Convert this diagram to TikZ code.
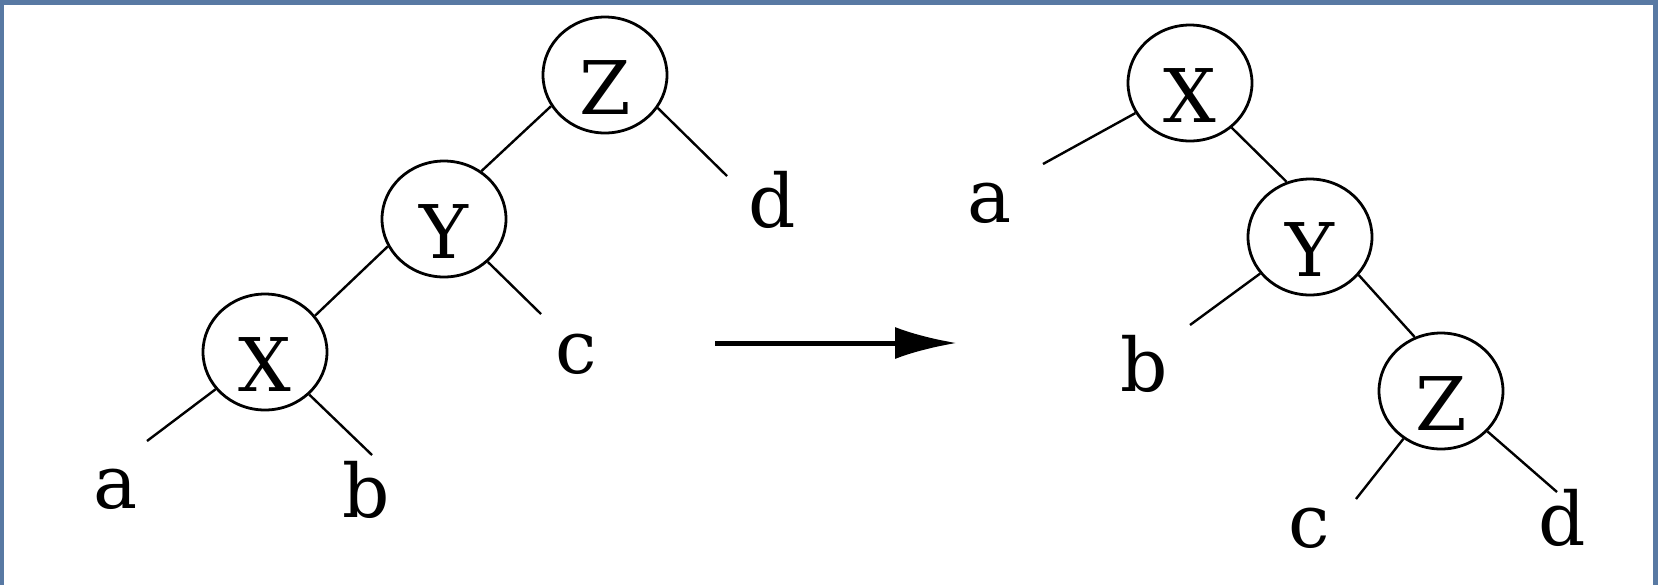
\documentclass[tikz,border=0pt]{standalone}
\usepackage{fontspec}
\setmainfont{DejaVu Serif}
\usetikzlibrary{shapes.geometric,arrows.meta}
\definecolor{frameblue}{RGB}{88,121,163}
\begin{document}
\begin{tikzpicture}[x=0.5pt,y=-0.5pt,
 treenode/.style={ellipse,draw,line width=1.4pt,minimum width=62pt,minimum height=58pt,inner sep=0pt,text height=39pt,text depth=0pt,font=\fontsize{37pt}{40pt}\selectfont},
 leaf/.style={anchor=base,inner sep=0pt,font=\fontsize{37pt}{40pt}\selectfont},
 edge/.style={line width=1.2pt},
 arr/.style={line width=2.5pt,-{Latex[length=31pt,width=16pt]}}]
\useasboundingbox (0,0) rectangle (1658,585);
\fill[frameblue] (0,0) rectangle (1658,585);
\fill[white] (4,5) rectangle (1653,585);
% left tree
\node[treenode] (lZ) at (605,75) {Z};
\node[treenode] (lY) at (444,219) {Y};
\node[treenode] (lX) at (265,352) {X};
\coordinate (ldE) at (727,176);
\coordinate (lcE) at (541,314);
\coordinate (laE) at (147,441);
\coordinate (lbE) at (372,455);
\node[leaf] (ld) at (772,227) {d};
\node[leaf] (lc) at (576,373) {c};
\node[leaf] (la) at (116,508) {a};
\node[leaf] (lb) at (366,517) {b};
\draw[edge] (lZ.210) -- (lY.52);
\draw[edge] (lY.206) -- (lX.36);
\draw[edge] (lZ.-32) -- (ldE);
\draw[edge] (lY) -- (lcE);
\draw[edge] (lX) -- (laE);
\draw[edge] (lX) -- (lbE);
% arrow
\coordinate (aS) at (715,343);
\coordinate (aE) at (957,343);
\draw[arr] (aS) -- (aE);
% right tree
\node[treenode] (rX) at (1190,83) {X};
\node[treenode] (rY) at (1310,237) {Y};
\node[treenode] (rZ) at (1441,391) {Z};
\coordinate (raE) at (1043,164);
\coordinate (rbE) at (1190,325);
\coordinate (rcE) at (1356,499);
\coordinate (rdE) at (1557,492);
\node[leaf] (ra) at (990,222) {a};
\node[leaf] (rb) at (1144,391) {b};
\node[leaf] (rc) at (1309,547) {c};
\node[leaf] (rd) at (1562,545) {d};
\draw[edge] (rX.-47) -- (rY.113);
\draw[edge] (rY.-38) -- (rZ.116);
\draw[edge] (rX) -- (raE);
\draw[edge] (rY) -- (rbE);
\draw[edge] (rZ) -- (rcE);
\draw[edge] (rZ) -- (rdE);
\end{tikzpicture}
\end{document}
